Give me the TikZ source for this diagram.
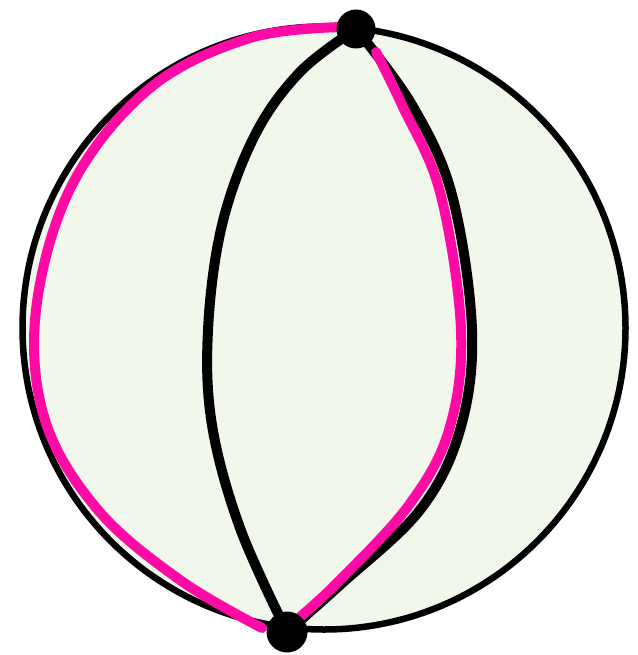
\documentclass[tikz,border=0pt]{standalone}
\definecolor{ballfill}{HTML}{F1F7EA}
\definecolor{hotpink}{HTML}{FF0AA5}
\tikzset{
  meridian/.style={draw=black, line width=10pt, line cap=round, line join=round},
  pinkline/.style={draw=hotpink, line width=10pt, line cap=round, line join=round},
  dot/.style={circle, fill=black, inner sep=0pt, minimum size=39pt},
}
\begin{document}
\begin{tikzpicture}[x=1pt, y=-1pt]
\useasboundingbox (0,0) rectangle (637,655);
\node[circle, draw=black, fill=ballfill, line width=6.5pt, minimum size=603pt, inner sep=0pt] (ball) at (324,328) {};
\coordinate (tp) at (356,29);
\coordinate (bp) at (287,632);
% black meridians
\draw[meridian] plot[smooth, tension=0.6] coordinates {(tp) (300,72) (255,135) (222,225) (208,330) (212,425) (240,528) (287,632)};
\draw[meridian] plot[smooth, tension=0.6] coordinates {(tp) (412,105) (452,195) (472,330) (460,430) (420,510) (340,585) (287,632)};
% pink paths
\draw[pinkline] plot[smooth, tension=0.6] coordinates {(344,27) (250,38) (150,88) (72,185) (36,310) (45,420) (98,510) (180,580) (262,628)};
\draw[pinkline] plot[smooth, tension=0.6] coordinates {(376,52) (402,105) (440,192) (461,330) (449,430) (409,505) (340,580) (300,617)};
% dots
\node[dot] (top) at (tp) {};
\node[dot, minimum size=41pt] (bot) at (bp) {};
\end{tikzpicture}
\end{document}
